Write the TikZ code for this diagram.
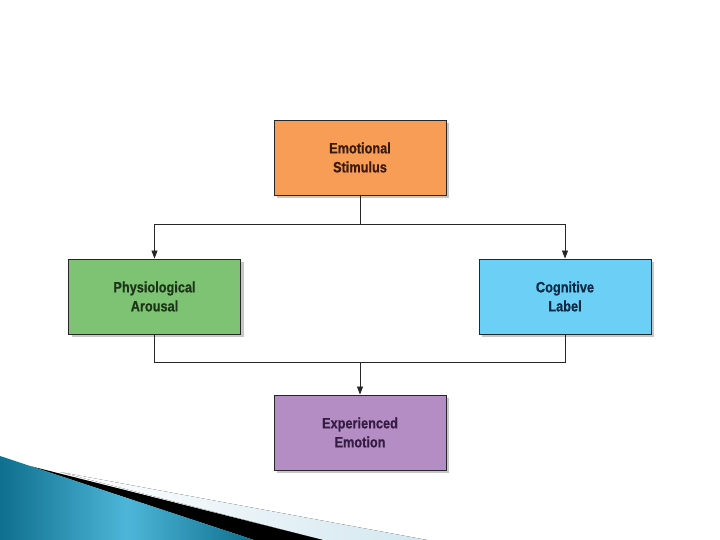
\documentclass[tikz,border=0pt]{standalone}
\usepackage{fontspec}
\setmainfont{Liberation Sans}[FakeStretch=0.85,
    BoldFeatures={FakeBold=0.6}]
\usetikzlibrary{arrows.meta, shadows}
\definecolor{stim-fill}{HTML}{F89D55}
\definecolor{stim-text}{HTML}{3A1A0C}
\definecolor{phys-fill}{HTML}{7EC374}
\definecolor{phys-text}{HTML}{1C3518}
\definecolor{cog-fill}{HTML}{6BCFF6}
\definecolor{cog-text}{HTML}{0E2A44}
\definecolor{exp-fill}{HTML}{B38DC4}
\definecolor{exp-text}{HTML}{361C42}
\definecolor{deco-dark}{HTML}{0F6F8E}
\definecolor{deco-mid}{HTML}{4DB6D8}
\definecolor{deco-pale}{HTML}{D3E7F0}

\begin{document}
\begin{tikzpicture}[x=1pt, y=-1pt,
      every node/.style={font=\bfseries\fontsize{15}{19}\selectfont},
      stage/.style={draw=black!85, line width=0.9pt, minimum width=172pt,
          minimum height=75pt, align=center,
          drop shadow={shadow xshift=3pt, shadow yshift=-3pt,
              fill=black, opacity=0.22}},
      link/.style={line width=0.8pt, black!85},
      arr/.style={link, -{Triangle[width=6pt, length=8pt]}}]
    \useasboundingbox (0,0) rectangle (720,540);
    % slide decoration, bottom left
    \fill[left color=white, right color=deco-pale]
        (60,472) -- (427,540) -- (323,540) -- cycle;
    \fill[black] (30,466) -- (323,540) -- (254,540) -- cycle;
    \shade[left color=deco-dark, right color=deco-dark, middle color=deco-mid]
        (0,456) -- (254,540) -- (0,540) -- cycle;
    % boxes
    \node[stage, fill=stim-fill, text=stim-text] (STIM) at (360,157.5)
        {Emotional\\Stimulus};
    \node[stage, fill=phys-fill, text=phys-text] (PHYS) at (154.5,296.5)
        {Physiological\\Arousal};
    \node[stage, fill=cog-fill, text=cog-text] (COG) at (565,296.5)
        {Cognitive\\Label};
    \node[stage, fill=exp-fill, text=exp-text] (EXP) at (360,432.5)
        {Experienced\\Emotion};
    % connectors
    \coordinate (SPLIT) at (360,224);
    \coordinate (JOIN) at (360,362);
    \draw[link] (STIM.south) -- (SPLIT);
    \draw[arr] (SPLIT) -| (PHYS.north);
    \draw[arr] (SPLIT) -| (COG.north);
    \draw[link] (PHYS.south) |- (JOIN);
    \draw[link] (COG.south) |- (JOIN);
    \draw[arr] (JOIN) -- (EXP.north);
\end{tikzpicture}
\end{document}
